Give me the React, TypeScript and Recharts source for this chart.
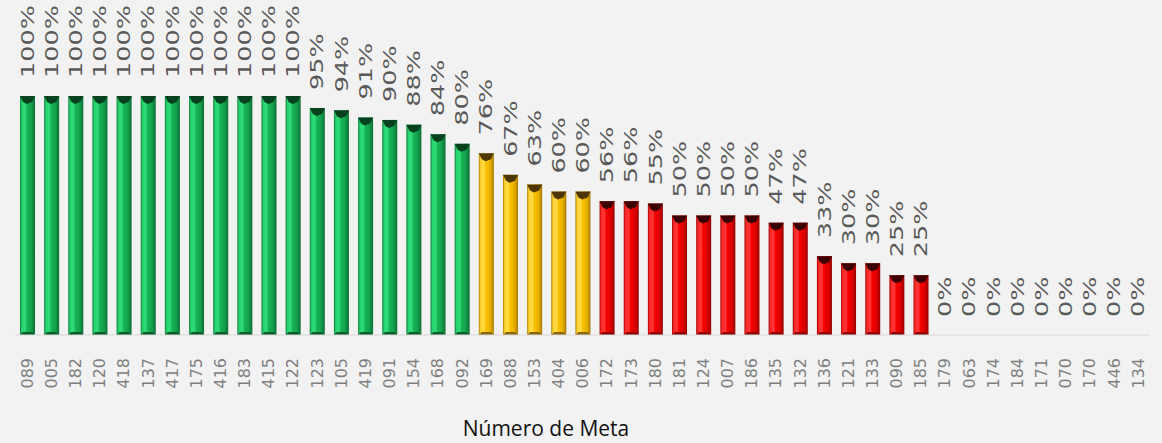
import React from 'react';
import { BarChart, Bar, XAxis, YAxis, Cell, LabelList } from 'recharts';

// metas, in the order shown on the axis
const codes = [
  '089', '005', '182', '120', '418', '137', '417', '175', '416', '183', '415', '122',
  '123', '105', '419', '091', '154', '168', '092',
  '169', '088', '153', '404', '006',
  '172', '173', '180', '181', '124', '007', '186', '135', '132', '136', '121', '133', '090', '185',
  '179', '063', '174', '184', '171', '070', '170', '446', '134',
];

// % de avance por meta
const avance = [
  100, 100, 100, 100, 100, 100, 100, 100, 100, 100, 100, 100,
  95, 94, 91, 90, 88, 84, 80,
  76, 67, 63, 60, 60,
  56, 56, 55, 50, 50, 50, 50, 47, 47, 33, 30, 30, 25, 25,
  0, 0, 0, 0, 0, 0, 0, 0, 0,
];

const data = codes.map((code, i) => ({ code, value: avance[i] }));

const W = 1162;
const H = 443;

const palettes = {
  green: { grad: 'url(#gGreen)', top: '#07421f', bottom: '#0a5a2a' },
  yellow: { grad: 'url(#gYellow)', top: '#4d3600', bottom: '#8a6400' },
  red: { grad: 'url(#gRed)', top: '#3d0000', bottom: '#8a0000' },
};

const paletteFor = (v: number) => (v >= 80 ? 'green' : v >= 60 ? 'yellow' : 'red');

const BevelBar = (props: any) => {
  const { x, y, width, height, payload } = props;
  if (!height || height <= 0) return null;
  const p = palettes[paletteFor(payload.value)];
  const b = 3;
  return (
    <g>
      <rect x={x} y={y} width={width} height={height} fill={p.grad} />
      <polygon
        points={`${x},${y} ${x + width},${y} ${x + width - b},${y + 6} ${x + width * 0.45},${y + 8} ${x + b},${y + 6}`}
        fill={p.top}
      />
      <polygon
        points={`${x},${y + height} ${x + width},${y + height} ${x + width - b},${y + height - b} ${x + b},${y + height - b}`}
        fill={p.bottom}
      />
    </g>
  );
};

const ValueLabel = (props: any) => {
  const { x, y, width, value } = props;
  const cx = x + width / 2;
  const ty = y - 18;
  return (
    <text
      transform={`translate(${cx},${ty}) rotate(-90) scale(1.5,1)`}
      x={0}
      y={0}
      dy="0.36em"
      textAnchor="start"
      fontFamily="DejaVu Sans"
      fontSize={17}
      fill="#595959"
    >
      {value}%
    </text>
  );
};

const CodeTick = (props: any) => {
  const { x, payload } = props;
  return (
    <text
      transform={`translate(${x},358) rotate(-90)`}
      x={0}
      y={0}
      dy="0.36em"
      textAnchor="end"
      fontFamily="DejaVu Sans"
      fontSize={16}
      fill="#7f7f7f"
    >
      {payload.value}
    </text>
  );
};

export default function App() {
  return (
    <div style={{ position: 'absolute', left: 0, top: 0, width: W, height: H, background: '#f2f2f2' }}>
      <BarChart
        width={W}
        height={H}
        data={data}
        margin={{ top: 96, right: 12, left: 15, bottom: 0 }}
        barSize={15}
      >
        <defs>
          <linearGradient id="gGreen" x1="0" y1="0" x2="1" y2="0">
            <stop offset="0" stopColor="#0c7436" />
            <stop offset="0.12" stopColor="#26d46c" />
            <stop offset="0.35" stopColor="#30dc77" />
            <stop offset="0.45" stopColor="#19b657" />
            <stop offset="0.75" stopColor="#13a04b" />
            <stop offset="0.9" stopColor="#0e843d" />
            <stop offset="1" stopColor="#0a6630" />
          </linearGradient>
          <linearGradient id="gYellow" x1="0" y1="0" x2="1" y2="0">
            <stop offset="0" stopColor="#a87a00" />
            <stop offset="0.12" stopColor="#ffd22e" />
            <stop offset="0.35" stopColor="#ffdc4a" />
            <stop offset="0.45" stopColor="#fcc400" />
            <stop offset="0.75" stopColor="#e8b000" />
            <stop offset="0.9" stopColor="#c79300" />
            <stop offset="1" stopColor="#9c7000" />
          </linearGradient>
          <linearGradient id="gRed" x1="0" y1="0" x2="1" y2="0">
            <stop offset="0" stopColor="#a00000" />
            <stop offset="0.12" stopColor="#ff2a2a" />
            <stop offset="0.35" stopColor="#ff3636" />
            <stop offset="0.45" stopColor="#f80000" />
            <stop offset="0.75" stopColor="#de0000" />
            <stop offset="0.9" stopColor="#b80000" />
            <stop offset="1" stopColor="#8c0000" />
          </linearGradient>
        </defs>
        <XAxis
          dataKey="code"
          interval={0}
          height={108}
          tickLine={false}
          axisLine={{ stroke: '#d9d9d9' }}
          tick={<CodeTick />}
          label={{
            content: () => (
              <text x={546} y={436} textAnchor="middle" fontFamily="Open Sans" fontSize={21} fill="#111">
                Número de Meta
              </text>
            ),
          }}
        />
        <YAxis hide domain={[0, 100]} />
        <Bar dataKey="value" shape={<BevelBar />} isAnimationActive={false}>
          {data.map((d) => (
            <Cell key={d.code} fill={palettes[paletteFor(d.value)].grad} />
          ))}
          <LabelList dataKey="value" content={<ValueLabel />} />
        </Bar>
      </BarChart>
    </div>
  );
}
